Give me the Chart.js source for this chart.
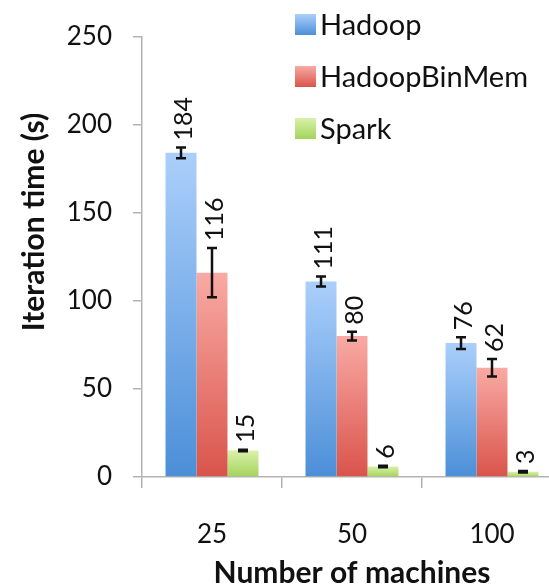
<!DOCTYPE html>
<html>
<head>
<meta charset="utf-8">
<script src="https://cdn.jsdelivr.net/npm/chart.js@4/dist/chart.umd.min.js"></script>
<style>
  html, body { margin: 0; padding: 0; background: #fff; overflow: hidden; }
  #wrap { width: 570px; height: 587px; }
</style>
</head>
<body>
<div id="wrap"><canvas id="myChart" width="570" height="587"></canvas></div>
<script>
const machines = ["25", "50", "100"];
const hadoop = [184, 111, 76];
const hadoopBinMem = [116, 80, 62];
const spark = [15, 6, 3];
const hadoopErr = [3, 2.8, 3.4];
const hadoopBinMemErr = [14, 2.5, 5];
const sparkErr = [0.4, 0.4, 0.4];
const yTicks = [0, 50, 100, 150, 200, 250];

const FONT = "Lato, 'Open Sans', sans-serif";

// top / bottom colours of the excel style gradients
const palette = [
  ["#abcffb", "#4b8fd8"],
  ["#f9aaa4", "#d9544b"],
  ["#d9f1aa", "#a4d35b"]
];

function barGradient(i) {
  return function (ctx) {
    const chart = ctx.chart;
    if (!chart.chartArea || ctx.raw === undefined) return palette[i][1];
    const y = chart.scales.y;
    const top = y.getPixelForValue(ctx.raw);
    const bottom = y.getPixelForValue(0);
    const g = chart.ctx.createLinearGradient(0, top, 0, bottom);
    g.addColorStop(0, palette[i][0]);
    g.addColorStop(1, palette[i][1]);
    return g;
  };
}

const errors = [hadoopErr, hadoopBinMemErr, sparkErr];

// error bars + rotated value labels
const barExtras = {
  id: "barExtras",
  afterDatasetsDraw(chart) {
    const c = chart.ctx;
    const y = chart.scales.y;
    chart.data.datasets.forEach((ds, di) => {
      const meta = chart.getDatasetMeta(di);
      meta.data.forEach((bar, i) => {
        const v = ds.data[i];
        const e = errors[di][i];
        const yTop = y.getPixelForValue(v + e);
        const yBot = y.getPixelForValue(v - e);
        c.save();
        c.strokeStyle = "#111";
        c.lineWidth = 2.5;
        c.beginPath();
        c.moveTo(bar.x, yTop); c.lineTo(bar.x, yBot);
        c.moveTo(bar.x - 5, yTop); c.lineTo(bar.x + 5, yTop);
        c.moveTo(bar.x - 5, yBot); c.lineTo(bar.x + 5, yBot);
        c.stroke();
        c.translate(bar.x, yTop - 7);
        c.rotate(-Math.PI / 2);
        c.fillStyle = "#111";
        c.font = "25px " + FONT;
        c.textAlign = "left";
        c.textBaseline = "middle";
        c.fillText(String(v), 0, 3);
        c.restore();
      });
    });
  }
};

// legend in the top right + axis titles
const decorations = {
  id: "decorations",
  afterDraw(chart) {
    const c = chart.ctx;
    c.save();
    chart.data.datasets.forEach((ds, i) => {
      const bx = 295, by = 14 + i * 52, s = 21;
      const g = c.createLinearGradient(0, by, 0, by + s);
      g.addColorStop(0, palette[i][0]);
      g.addColorStop(1, palette[i][1]);
      c.fillStyle = g;
      c.fillRect(bx, by, s, s);
      c.fillStyle = "#111";
      c.font = "29px " + FONT;
      c.textAlign = "left";
      c.textBaseline = "middle";
      c.fillText(ds.label, bx + 25, by + s / 2 + 1);
    });

    c.font = "bold 30px " + FONT;
    c.fillStyle = "#111";
    c.textAlign = "center";
    c.textBaseline = "middle";
    c.fillText("Number of machines", 352, 573);

    c.translate(34, 222);
    c.rotate(-Math.PI / 2);
    c.fillText("Iteration time (s)", 0, 0);
    c.restore();
  }
};

const ctx = document.getElementById("myChart").getContext("2d");

new Chart(ctx, {
  type: "bar",
  data: {
    labels: machines,
    datasets: [
      { label: "Hadoop", data: hadoop, backgroundColor: barGradient(0) },
      { label: "HadoopBinMem", data: hadoopBinMem, backgroundColor: barGradient(1) },
      { label: "Spark", data: spark, backgroundColor: barGradient(2) }
    ]
  },
  options: {
    responsive: false,
    animation: false,
    devicePixelRatio: 1,
    layout: { padding: { top: 27, right: 8, left: 0, bottom: 0 } },
    datasets: {
      bar: { categoryPercentage: 0.664, barPercentage: 1.0, borderWidth: 0 }
    },
    plugins: {
      legend: { display: false },
      tooltip: { enabled: false }
    },
    scales: {
      x: {
        afterFit(scale) { scale.height = 110; },
        grid: {
          offset: true,
          drawOnChartArea: false,
          drawTicks: true,
          tickLength: 11,
          color: "#b3b3b3",
          lineWidth: 1.5
        },
        border: { color: "#b3b3b3", width: 1.5 },
        ticks: {
          padding: 31,
          color: "#111",
          font: { family: FONT, size: 26 }
        }
      },
      y: {
        min: 0,
        max: 250,
        afterFit(scale) { scale.width = 142; },
        afterBuildTicks(scale) { scale.ticks = yTicks.map(v => ({ value: v })); },
        grid: {
          drawOnChartArea: false,
          drawTicks: true,
          tickLength: 9,
          color: "#b3b3b3",
          lineWidth: 1.5
        },
        border: { color: "#b3b3b3", width: 1.5 },
        ticks: {
          padding: 21,
          color: "#111",
          font: { family: FONT, size: 26 }
        }
      }
    }
  },
  plugins: [barExtras, decorations]
});
</script>
</body>
</html>
